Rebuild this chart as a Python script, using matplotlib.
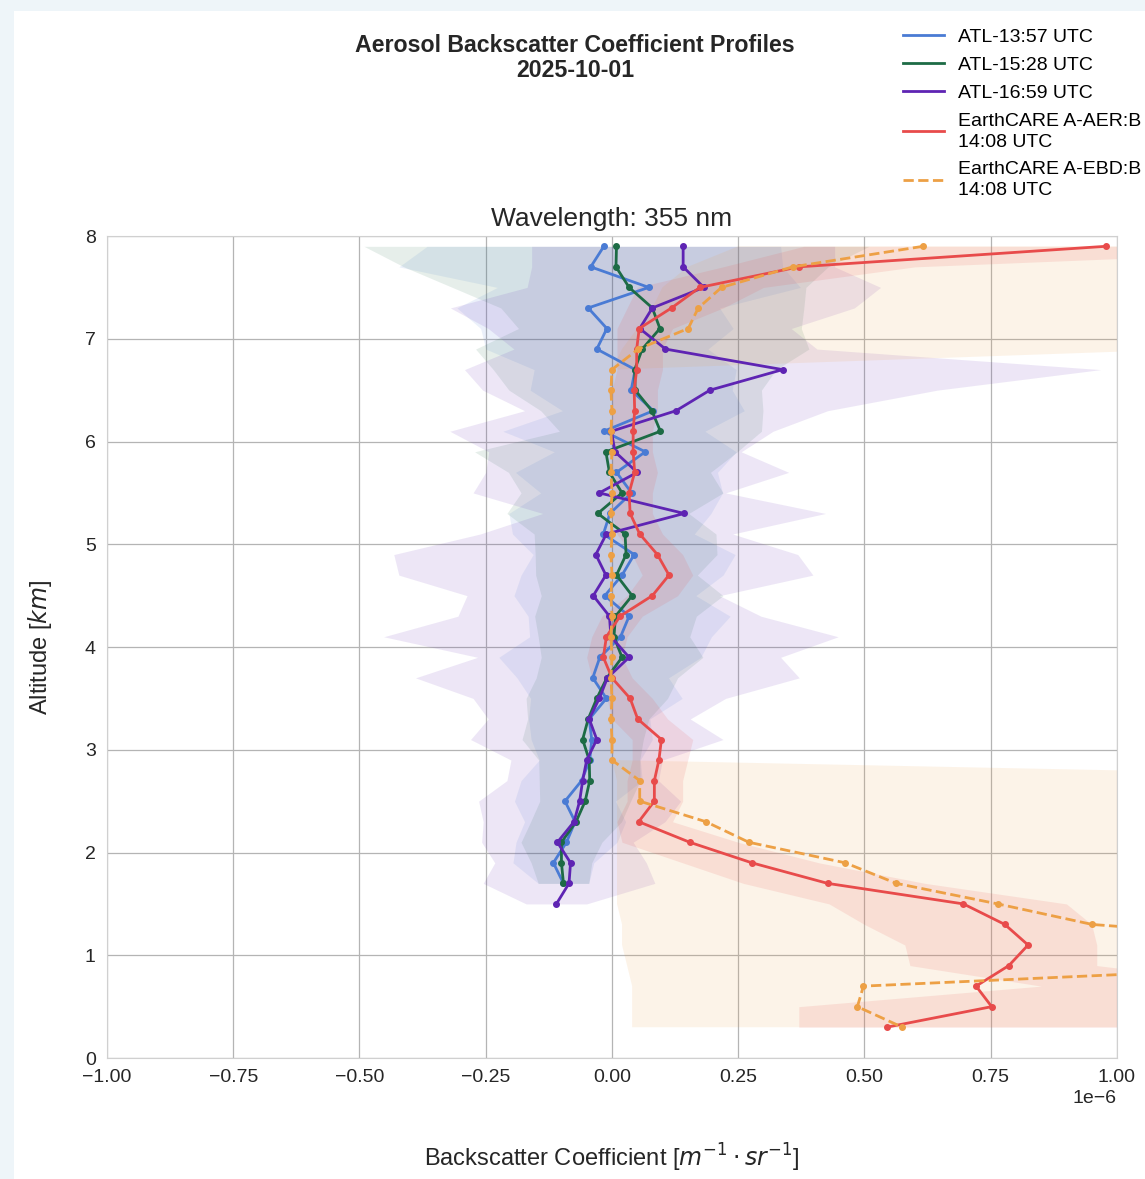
import matplotlib
matplotlib.use("Agg")
import matplotlib.pyplot as plt
from matplotlib.patches import Rectangle
from matplotlib.lines import Line2D
import numpy as np

plt.rcParams['font.family'] = ['Liberation Sans', 'DejaVu Sans']

# altitude levels [km]
alt_atl = [7.9, 7.7, 7.5, 7.3, 7.1, 6.9, 6.7, 6.5, 6.3, 6.1, 5.9, 5.7, 5.5, 5.3, 5.1, 4.9, 4.7,
           4.5, 4.3, 4.1, 3.9, 3.7, 3.5, 3.3, 3.1, 2.9, 2.7, 2.5, 2.3, 2.1, 1.9, 1.7, 1.5]
alt_ec = [7.9, 7.7, 7.5, 7.3, 7.1, 6.9, 6.7, 6.5, 6.3, 6.1, 5.9, 5.7, 5.5, 5.3, 5.1, 4.9, 4.7,
          4.5, 4.3, 4.1, 3.9, 3.7, 3.5, 3.3, 3.1, 2.9, 2.7, 2.5, 2.3, 2.1, 1.9, 1.7, 1.5, 1.3,
          1.1, 0.9, 0.7, 0.5, 0.3]

# backscatter, units of 1e-6 m^-1 sr^-1
atl_1357 = [-0.016, -0.042, 0.073, -0.047, -0.010, -0.030, 0.046, 0.038, 0.082, -0.016, 0.066,
            0.009, 0.039, -0.004, -0.017, 0.044, 0.020, -0.014, 0.034, 0.017, -0.024, -0.038,
            -0.011, -0.045, -0.040, -0.044, -0.060, -0.093, -0.073, -0.090, -0.116, -0.096]
atl_1357_sd = [0.35, 0.38, 0.30, 0.26, 0.25, 0.22, 0.20, 0.20, 0.18, 0.20, 0.18, 0.20, 0.18,
               0.20, 0.18, 0.20, 0.20, 0.18, 0.20, 0.18, 0.20, 0.15, 0.15, 0.12, 0.12, 0.10,
               0.12, 0.10, 0.10, 0.10, 0.08, 0.05]

atl_1528 = [0.009, 0.008, 0.034, 0.080, 0.095, 0.060, 0.045, 0.046, 0.079, 0.096, -0.012,
            -0.005, 0.020, -0.028, 0.026, 0.028, 0.009, 0.040, 0.007, 0.004, 0.020, -0.010,
            -0.030, -0.047, -0.058, -0.045, -0.044, -0.053, -0.071, -0.100, -0.100, -0.096]
atl_1528_sd = [0.50, 0.42, 0.35, 0.30, 0.28, 0.33, 0.28, 0.25, 0.22, 0.20, 0.26, 0.20, 0.20,
               0.18, 0.18, 0.18, 0.16, 0.18, 0.16, 0.15, 0.16, 0.14, 0.14, 0.12, 0.12, 0.10,
               0.10, 0.09, 0.09, 0.08, 0.06, 0.05]

atl_1659 = [0.141, 0.141, 0.182, 0.080, 0.055, 0.106, 0.338, 0.194, 0.127, -0.001, 0.006,
            0.050, -0.025, 0.143, -0.011, -0.032, -0.012, -0.037, -0.005, -0.002, 0.034,
            -0.009, -0.025, -0.045, -0.030, -0.050, -0.058, -0.064, -0.075, -0.108, -0.082,
            -0.085, -0.110]
atl_1659_sd = [0.30, 0.30, 0.35, 0.40, 0.30, 0.30, 0.63, 0.45, 0.30, 0.32, 0.25, 0.30, 0.25,
               0.28, 0.25, 0.40, 0.41, 0.25, 0.30, 0.45, 0.30, 0.38, 0.25, 0.20, 0.25, 0.15,
               0.15, 0.20, 0.18, 0.15, 0.15, 0.17, 0.06]

aer = [0.978, 0.370, 0.174, 0.118, 0.054, 0.049, 0.049, 0.044, 0.045, 0.042, 0.042, 0.045,
       0.034, 0.036, 0.055, 0.090, 0.113, 0.080, 0.016, -0.011, -0.017, 0.000, 0.036, 0.051,
       0.098, 0.093, 0.084, 0.084, 0.053, 0.154, 0.277, 0.427, 0.696, 0.778, 0.824, 0.786,
       0.721, 0.752, 0.544]
aer_lo = [0.38, 0.22, 0.05, 0.03, 0.01, 0.01, 0.01, 0.00, 0.00, 0.00, 0.00, 0.00, 0.00, 0.00,
          0.01, 0.04, 0.06, 0.03, -0.02, -0.04, -0.05, -0.04, -0.01, 0.00, 0.04, 0.04, 0.03,
          0.03, 0.01, 0.02, 0.14, 0.26, 0.43, 0.50, 0.58, 0.59, 0.85, 0.37, 0.37]
aer_hi = [1.60, 0.60, 0.30, 0.22, 0.12, 0.10, 0.10, 0.09, 0.09, 0.08, 0.08, 0.09, 0.08, 0.08,
          0.10, 0.14, 0.16, 0.13, 0.06, 0.03, 0.02, 0.04, 0.08, 0.11, 0.16, 0.15, 0.14, 0.14,
          0.12, 0.25, 0.41, 0.62, 0.90, 0.95, 0.96, 0.96, 1.30, 1.40, 1.40]

ebd = [0.616, 0.358, 0.217, 0.171, 0.151, 0.052, 0.000, -0.002, 0.000, -0.002, 0.000, -0.002,
       0.000, -0.002, 0.000, -0.002, 0.000, -0.002, 0.000, -0.002, 0.000, -0.002, 0.000,
       -0.002, 0.000, 0.000, 0.055, 0.055, 0.186, 0.271, 0.462, 0.563, 0.764, 0.951, 1.500,
       1.400, 0.498, 0.486, 0.575]
ebd_lo = [0.25, 0.15, 0.10, 0.08, 0.05, 0.02, 0.0, 0.0, 0.0, 0.0, 0.0, 0.0, 0.0, 0.0, 0.0, 0.0,
          0.0, 0.0, 0.0, 0.0, 0.0, 0.0, 0.0, 0.0, 0.0, 0.0, 0.01, 0.01, 0.01, 0.01, 0.01, 0.01,
          0.01, 0.02, 0.02, 0.03, 0.04, 0.04, 0.04]
ebd_hi = [1.60, 1.50, 1.40, 1.30, 1.30, 1.15, 0.0, 0.0, 0.0, 0.0, 0.0, 0.0, 0.0, 0.0, 0.0, 0.0,
          0.0, 0.0, 0.0, 0.0, 0.0, 0.0, 0.0, 0.0, 0.0, 0.0, 2.0, 2.0, 2.0, 2.0, 2.0, 2.0, 2.0,
          2.0, 2.5, 2.5, 2.0, 2.0, 2.0]

c_blue, c_green, c_purple = '#4a7bd4', '#1d6b45', '#5e24b3'
c_red, c_orange = '#e84b4b', '#eda045'
scale = 1e-6

fig = plt.figure(figsize=(11.45, 11.79), dpi=100)
fig.patch.set_facecolor('#eef5f9')
fig.add_artist(Rectangle((14 / 1145, 0), 1, 1 - 11 / 1179, transform=fig.transFigure,
                         facecolor='white', edgecolor='none', zorder=-5))

ax = fig.add_axes([0.0934, 0.1026, 0.8821, 0.6972])
ax.set_facecolor('white')

atl = [(atl_1357, atl_1357_sd, c_blue, 'ATL-13:57 UTC'),
       (atl_1528, atl_1528_sd, c_green, 'ATL-15:28 UTC'),
       (atl_1659, atl_1659_sd, c_purple, 'ATL-16:59 UTC')]

for vals, sd, col, lab in atl:
    y = alt_atl[:len(vals)]
    v = np.array(vals)
    s = np.array(sd)
    ax.fill_betweenx(y, (v - s) * scale, (v + s) * scale, color=col, alpha=0.11, lw=0)

ax.fill_betweenx(alt_ec, np.array(ebd_lo) * scale, np.array(ebd_hi) * scale,
                 color=c_orange, alpha=0.12, lw=0)
ax.fill_betweenx(alt_ec, np.array(aer_lo) * scale, np.array(aer_hi) * scale,
                 color=c_red, alpha=0.12, lw=0)

for vals, sd, col, lab in atl:
    ax.plot(np.array(vals) * scale, alt_atl[:len(vals)], color=col, lw=2, marker='o', ms=4)
ax.plot(np.array(aer) * scale, alt_ec, color=c_red, lw=2, marker='o', ms=4)
ax.plot(np.array(ebd) * scale, alt_ec, color=c_orange, lw=2, ls='--', marker='o', ms=4)

ax.set_xlim(-1e-6, 1e-6)
ax.set_ylim(0, 8)
ax.grid(True, color='#b4b4b4', lw=0.9)
ax.set_axisbelow(True)
for sp in ax.spines.values():
    sp.set_color('#d0d0d0')
    sp.set_linewidth(0.8)
ax.tick_params(length=0, labelsize=14, pad=8, labelcolor='#262626')
ax.xaxis.get_offset_text().set_fontsize(14)

ax.set_title('Wavelength: 355 nm', fontsize=19, pad=7, color='#262626')
ax.set_xlabel(r'Backscatter Coefficient [$m^{-1} \cdot sr^{-1}$]', fontsize=17,
              labelpad=40, color='#262626')
ax.set_ylabel(r'Altitude [$km$]', fontsize=17, labelpad=22, color='#262626')

fig.text(575 / 1145, 1 - 58 / 1179, 'Aerosol Backscatter Coefficient Profiles\n2025-10-01',
         ha='center', va='center', fontsize=16.7, fontweight='bold', color='#262626',
         linespacing=1.15)

handles = [Line2D([], [], color=c_blue, lw=2),
           Line2D([], [], color=c_green, lw=2),
           Line2D([], [], color=c_purple, lw=2),
           Line2D([], [], color=c_red, lw=2),
           Line2D([], [], color=c_orange, lw=2, ls='--')]
labels = ['ATL-13:57 UTC', 'ATL-15:28 UTC', 'ATL-16:59 UTC',
          'EarthCARE A-AER:B\n14:08 UTC', 'EarthCARE A-EBD:B\n14:08 UTC']
leg = fig.legend(handles, labels, loc='upper left', bbox_to_anchor=(899 / 1145, 1 - 24 / 1179),
                 frameon=False, fontsize=14, handlelength=2.1, handletextpad=0.75,
                 labelspacing=0.55, borderaxespad=0, borderpad=0.2)
for t in leg.get_texts():
    t.set_linespacing(1.3)

fig.savefig('out.png', dpi=100, facecolor=fig.get_facecolor())
